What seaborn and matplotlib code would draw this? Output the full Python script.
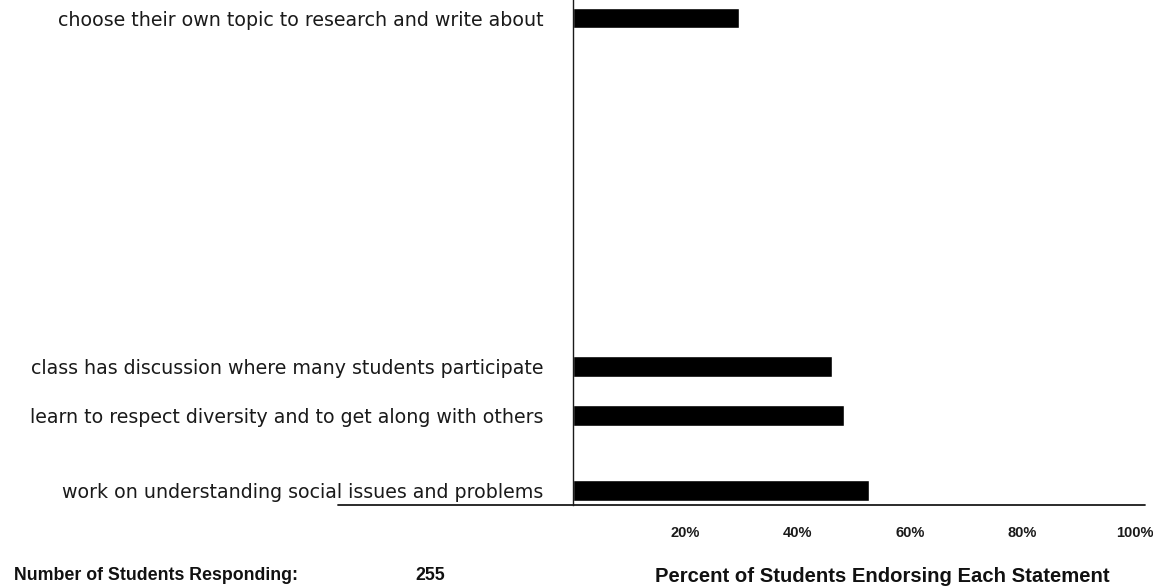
import matplotlib
matplotlib.use("Agg")
import matplotlib.pyplot as plt
from matplotlib.lines import Line2D
import seaborn as sns
import pandas as pd

statements = [
    "choose their own topic to research and write about",
    "class has discussion where many students participate",
    "learn to respect diversity and to get along with others",
    "work on understanding social issues and problems",
]
percent = [29.6, 46.1, 48.3, 52.7]
tick_values = [20, 40, 60, 80, 100]
tick_labels = ["20%", "40%", "60%", "80%", "100%"]
n_students = "255"

# layout: row slot of each statement (top to bottom)
rows = [0, 14, 16, 19]

sns.set_theme(style="white")
plt.rcParams["font.family"] = ["Liberation Sans", "DejaVu Sans"]

W, H = 1153, 586
fig = plt.figure(figsize=(W / 100, H / 100), dpi=100)
x0, x1 = 572.5 / W, 1145 / W
ytop, ybot = 0 / H, 505 / H
ax = fig.add_axes([x0, 1 - ybot, x1 - x0, ybot - ytop])

df = pd.DataFrame({"statement": statements, "percent": percent, "row": rows})
sns.barplot(data=df, x="percent", y="row", orient="h", native_scale=True,
            color="black", width=0.42, saturation=1, ax=ax)

unit = 472.5 / 19
ax.set_xlim(0, (1145 - 572.5) / 5.625)
ax.set_ylim((505 - 18) / unit, -18 / unit)
ax.set_yticks(rows)
ax.set_yticklabels(statements, fontsize=13.7, color="#1a1a1a", family="DejaVu Sans")
ax.set_xticks(tick_values)
ax.set_xticklabels(tick_labels, fontsize=10.5, fontweight="bold", color="#1a1a1a")
ax.tick_params(axis="y", length=0, pad=21)
ax.tick_params(axis="x", length=0, pad=15)
ax.set_xlabel("")
ax.set_ylabel("")
for s in ["top", "right", "bottom"]:
    ax.spines[s].set_visible(False)
ax.spines["left"].set_color("#1a1a1a")
ax.spines["left"].set_linewidth(1.0)

fig.add_artist(Line2D([338 / W, 1145 / W], [1 - ybot, 1 - ybot],
                      transform=fig.transFigure, color="#1a1a1a", lw=1.3))

fig.text(14 / W, 1 - 576 / H, "Number of Students Responding:", fontsize=12.8,
         fontweight="bold", va="center", ha="left", color="#111111")
fig.text(430 / W, 1 - 576 / H, n_students, fontsize=12.8,
         fontweight="bold", va="center", ha="center", color="#111111")
fig.text(882 / W, 1 - 576 / H, "Percent of Students Endorsing Each Statement", fontsize=14.6,
         fontweight="bold", va="center", ha="center", color="#111111")

fig.savefig("out.png", dpi=100, facecolor="white")
